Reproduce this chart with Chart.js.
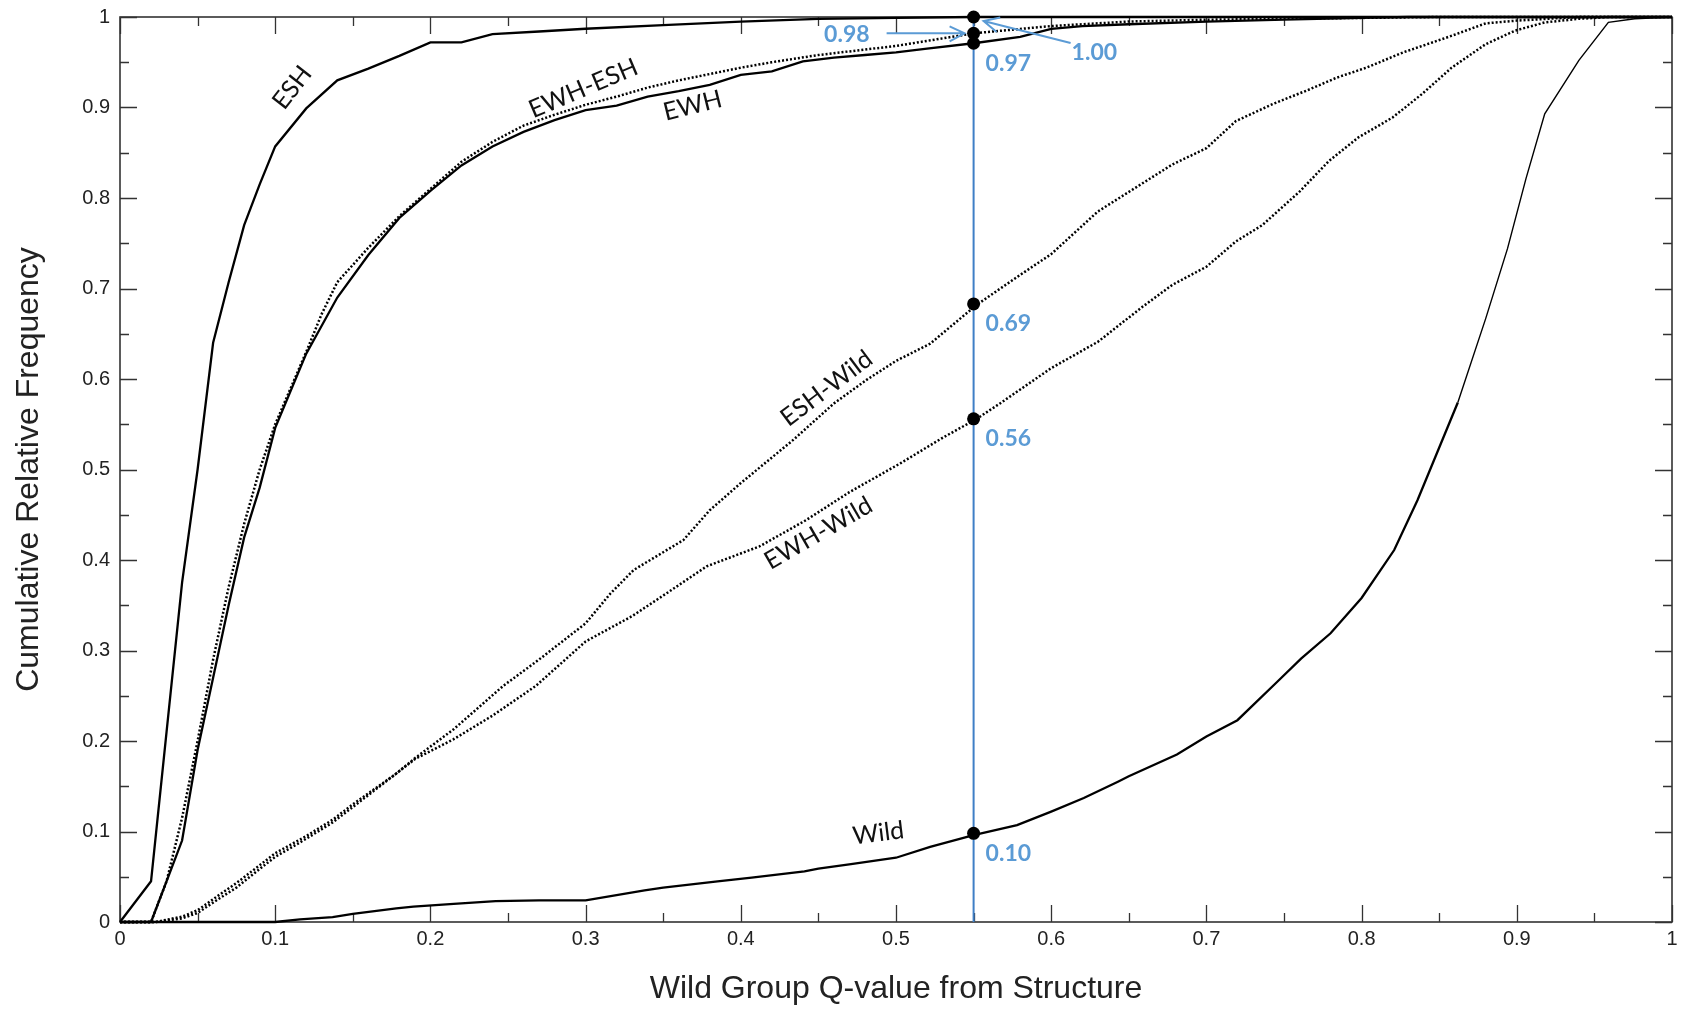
<!DOCTYPE html>
<html><head><meta charset="utf-8">
<script src="https://cdn.jsdelivr.net/npm/chart.js@4.4.1/dist/chart.umd.min.js"></script>
<style>html,body{margin:0;padding:0;background:#fff;}#wrap{width:1686px;height:1009px;}</style>
</head><body><div id="wrap"><canvas id="c" width="1686" height="1009"></canvas></div>
<script>
// ---------- data ----------
const xTickValues = [0,0.1,0.2,0.3,0.4,0.5,0.6,0.7,0.8,0.9,1];
const xTickLabels = ['0','0.1','0.2','0.3','0.4','0.5','0.6','0.7','0.8','0.9','1'];
const yTickValues = [0,0.1,0.2,0.3,0.4,0.5,0.6,0.7,0.8,0.9,1];
const yTickLabels = ['0','0.1','0.2','0.3','0.4','0.5','0.6','0.7','0.8','0.9','1'];
const minorTickValues = [0.05,0.15,0.25,0.35,0.45,0.55,0.65,0.75,0.85,0.95];

const eshX = [0,0.02,0.03,0.04,0.05,0.06,0.07,0.08,0.09,0.10,0.12,0.14,0.16,0.18,0.20,0.22,0.24,0.27,0.30,0.35,0.40,0.45,0.50,0.55,1.0];
const eshY = [0,0.045,0.21,0.375,0.50,0.64,0.707,0.77,0.815,0.857,0.899,0.93,0.943,0.957,0.972,0.972,0.981,0.984,0.987,0.991,0.995,0.998,0.999,1.0,1.0];

const ewhX = [0,0.02,0.04,0.05,0.06,0.07,0.08,0.09,0.10,0.12,0.14,0.16,0.18,0.20,0.22,0.24,0.26,0.28,0.30,0.32,0.34,0.36,0.38,0.40,0.42,0.44,0.46,0.48,0.50,0.52,0.55,0.58,0.60,0.62,0.65,0.70,0.75,0.80,0.83,1.0];
const ewhY = [0,0,0.09,0.19,0.27,0.35,0.425,0.48,0.546,0.628,0.69,0.737,0.778,0.808,0.836,0.857,0.873,0.886,0.897,0.902,0.912,0.918,0.925,0.936,0.94,0.951,0.955,0.958,0.961,0.965,0.971,0.978,0.987,0.99,0.992,0.995,0.997,0.999,1.0,1.0];

const ewhEshX = [0,0.02,0.03,0.04,0.05,0.06,0.07,0.08,0.09,0.10,0.12,0.13,0.14,0.16,0.18,0.20,0.22,0.24,0.26,0.28,0.30,0.32,0.34,0.36,0.38,0.40,0.42,0.45,0.50,0.55,0.60,0.65,0.70,0.75,0.80,0.85,1.0];
const ewhEshY = [0,0,0.045,0.115,0.20,0.29,0.37,0.44,0.50,0.55,0.63,0.672,0.707,0.745,0.78,0.81,0.84,0.862,0.88,0.892,0.903,0.912,0.922,0.93,0.937,0.944,0.95,0.958,0.968,0.982,0.99,0.995,0.997,0.998,0.999,1.0,1.0];

const eshWildX = [0,0.023,0.04,0.05,0.064,0.075,0.094,0.10,0.12,0.137,0.15,0.178,0.19,0.215,0.247,0.27,0.30,0.316,0.331,0.363,0.38,0.40,0.434,0.46,0.481,0.50,0.522,0.552,0.58,0.60,0.63,0.654,0.678,0.70,0.719,0.743,0.765,0.784,0.803,0.827,0.856,0.88,0.90,0.94,1.0];
const eshWildY = [0,0,0.006,0.013,0.03,0.043,0.068,0.076,0.095,0.113,0.13,0.164,0.181,0.213,0.261,0.29,0.33,0.363,0.389,0.422,0.455,0.485,0.533,0.573,0.599,0.62,0.639,0.682,0.715,0.738,0.785,0.811,0.837,0.855,0.885,0.904,0.919,0.933,0.944,0.961,0.978,0.993,0.996,1.0,1.0];

const ewhWildX = [0,0.023,0.04,0.05,0.064,0.075,0.094,0.10,0.12,0.137,0.15,0.178,0.19,0.215,0.24,0.268,0.30,0.33,0.352,0.378,0.412,0.442,0.47,0.503,0.53,0.552,0.567,0.60,0.63,0.659,0.678,0.70,0.719,0.736,0.76,0.779,0.798,0.82,0.839,0.858,0.88,0.899,0.918,0.94,0.96,1.0];
const ewhWildY = [0,0,0.004,0.01,0.026,0.038,0.064,0.072,0.092,0.11,0.127,0.164,0.18,0.202,0.228,0.261,0.31,0.338,0.363,0.393,0.415,0.444,0.475,0.507,0.535,0.556,0.573,0.612,0.641,0.68,0.704,0.724,0.752,0.77,0.807,0.841,0.867,0.889,0.915,0.944,0.97,0.985,0.994,0.998,1.0,1.0];

const wildX = [0,0.10,0.116,0.137,0.15,0.178,0.189,0.215,0.242,0.27,0.30,0.338,0.35,0.385,0.407,0.441,0.45,0.471,0.50,0.522,0.55,0.578,0.60,0.621,0.643,0.65,0.681,0.70,0.72,0.746,0.761,0.78,0.80,0.821,0.836,0.862,0.88,0.894,0.906,0.918,0.94,0.959,0.976,1.0];
const wildY = [0,0,0.003,0.0055,0.009,0.015,0.017,0.02,0.023,0.024,0.024,0.035,0.038,0.045,0.049,0.056,0.059,0.064,0.071,0.083,0.096,0.107,0.122,0.137,0.155,0.161,0.185,0.205,0.223,0.266,0.291,0.319,0.358,0.411,0.466,0.574,0.667,0.744,0.822,0.893,0.952,0.994,0.998,1.0];

const cutX = 0.55;
const cutValues = [1.00, 0.982, 0.971, 0.683, 0.556, 0.098];
const cutLabelTexts = ['0.97','0.69','0.56','0.10'];
const cutLabelValues = [0.971, 0.683, 0.556, 0.098];

// ---------- helpers ----------
const pts = (xs, ys) => xs.map((x, i) => ({x, y: ys[i]}));

// series label annotations (placement only)
const seriesLabels = [
  {text:'ESH', x:0.111, y:0.922, rot:-52},
  {text:'EWH-ESH', x:0.2985, y:0.921, rot:-23},
  {text:'EWH', x:0.369, y:0.902, rot:-14},
  {text:'ESH-Wild', x:0.4553, y:0.5897, rot:-37},
  {text:'EWH-Wild', x:0.45, y:0.4295, rot:-30},
  {text:'Wild', x:0.4886, y:0.098, rot:-7}
];

const BLUE_LINE = '#3f7fc6';
const BLUE_TEXT = '#5b9bd5';

const framePlugin = {
  id: 'frame',
  beforeDatasetsDraw(chart) {
    const {ctx, chartArea: a, scales: {x, y}} = chart;
    ctx.save();
    ctx.strokeStyle = '#333';
    ctx.lineWidth = 1.3;
    ctx.beginPath();
    xTickValues.forEach(v => { const p = Math.round(x.getPixelForValue(v)) + 0.5;
      ctx.moveTo(p, a.bottom); ctx.lineTo(p, a.bottom - 17);
      ctx.moveTo(p, a.top); ctx.lineTo(p, a.top + 17); });
    minorTickValues.forEach(v => { const p = Math.round(x.getPixelForValue(v)) + 0.5;
      ctx.moveTo(p, a.bottom); ctx.lineTo(p, a.bottom - 9);
      ctx.moveTo(p, a.top); ctx.lineTo(p, a.top + 9); });
    yTickValues.forEach(v => { const p = Math.round(y.getPixelForValue(v)) + 0.5;
      ctx.moveTo(a.left, p); ctx.lineTo(a.left + 17, p);
      ctx.moveTo(a.right, p); ctx.lineTo(a.right - 17, p); });
    minorTickValues.forEach(v => { const p = Math.round(y.getPixelForValue(v)) + 0.5;
      ctx.moveTo(a.left, p); ctx.lineTo(a.left + 9, p);
      ctx.moveTo(a.right, p); ctx.lineTo(a.right - 9, p); });
    ctx.stroke();
    ctx.lineWidth = 1.6;
    ctx.strokeRect(a.left, a.top, a.right - a.left, a.bottom - a.top);
    ctx.restore();
  },
  afterDatasetsDraw(chart) {
    const {ctx, scales: {x, y}} = chart;
    ctx.save();
    // series labels
    ctx.fillStyle = '#111';
    ctx.font = '25px Lato';
    ctx.textAlign = 'center';
    ctx.textBaseline = 'middle';
    seriesLabels.forEach(l => {
      ctx.save();
      ctx.translate(x.getPixelForValue(l.x), y.getPixelForValue(l.y));
      ctx.rotate(l.rot * Math.PI / 180);
      ctx.fillText(l.text, 0, 0);
      ctx.restore();
    });
    // blue value labels
    ctx.fillStyle = BLUE_TEXT;
    ctx.font = 'bold 23px Lato';
    ctx.textAlign = 'left';
    const cx = x.getPixelForValue(cutX);
    cutLabelTexts.forEach((t, i) => {
      ctx.fillText(t, cx + 12, y.getPixelForValue(cutLabelValues[i]) + 20);
    });
    // 0.98 label with arrow
    const y98 = y.getPixelForValue(cutValues[1]);
    ctx.textAlign = 'right';
    ctx.fillText('0.98', cx - 104, y98 + 1);
    ctx.strokeStyle = BLUE_TEXT;
    ctx.lineWidth = 2;
    ctx.beginPath();
    ctx.moveTo(cx - 87, y98); ctx.lineTo(cx - 9, y98);
    ctx.moveTo(cx - 24, y98 - 7); ctx.lineTo(cx - 9, y98); ctx.lineTo(cx - 24, y98 + 8);
    ctx.stroke();
    // 1.00 label with arrow
    const y100 = y.getPixelForValue(cutValues[0]);
    ctx.textAlign = 'left';
    ctx.fillText('1.00', cx + 98, y100 + 36);
    ctx.beginPath();
    const sx = cx + 97, sy = y100 + 26, ex = cx + 10, ey = y100 + 4;
    ctx.moveTo(sx, sy); ctx.lineTo(ex, ey);
    const ang = Math.atan2(sy - ey, sx - ex);
    ctx.moveTo(ex + 17 * Math.cos(ang - 0.45), ey + 17 * Math.sin(ang - 0.45));
    ctx.lineTo(ex, ey);
    ctx.lineTo(ex + 17 * Math.cos(ang + 0.45), ey + 17 * Math.sin(ang + 0.45));
    ctx.stroke();
    ctx.restore();
  }
};

const solid = (data) => ({data, borderColor:'#000', borderWidth:2.3, pointRadius:0, tension:0, showLine:true, fill:false, clip:false});
const dotted = (data) => ({data, borderColor:'#000', borderWidth:2.5, borderDash:[2,2], pointRadius:0, tension:0, showLine:true, fill:false, clip:false});

const wildDs = solid(pts(wildX, wildY));
wildDs.segment = { borderWidth: c => (c.p0.parsed.x >= 0.86 ? 1.4 : 2.3) };

new Chart(document.getElementById('c'), {
  type: 'scatter',
  data: {
    datasets: [
      {label:'markers', data: cutValues.map(v => ({x: cutX, y: v})), pointRadius:6.5, pointBackgroundColor:'#000', pointBorderColor:'#000', pointBorderWidth:0, showLine:false, clip:false},
      {label:'cut', data: [{x: cutX, y: 0}, {x: cutX, y: 1}], borderColor: BLUE_LINE, borderWidth: 2, pointRadius: 0, showLine: true, fill:false},
      Object.assign({label:'ESH'}, solid(pts(eshX, eshY))),
      Object.assign({label:'EWH'}, solid(pts(ewhX, ewhY))),
      Object.assign({label:'EWH-ESH'}, dotted(pts(ewhEshX, ewhEshY))),
      Object.assign({label:'ESH-Wild'}, dotted(pts(eshWildX, eshWildY))),
      Object.assign({label:'EWH-Wild'}, dotted(pts(ewhWildX, ewhWildY))),
      Object.assign({label:'Wild'}, wildDs)
    ]
  },
  options: {
    responsive: false,
    animation: false,
    devicePixelRatio: 1,
    layout: { padding: { top: 17, right: 14, left: 0, bottom: 0 } },
    plugins: { legend: { display: false }, tooltip: { enabled: false } },
    scales: {
      x: {
        type: 'linear', min: 0, max: 1,
        afterBuildTicks: s => { s.ticks = xTickValues.map(v => ({value: v})); },
        afterFit: s => { s.height = 87; s.paddingLeft = 0; s.paddingRight = 0; },
        grid: { display: false, drawTicks: false }, border: { display: false },
        ticks: { autoSkip: false, maxRotation: 0, padding: 5, color: '#222',
          font: { family: 'Liberation Sans', size: 20 },
          callback: (v, i) => xTickLabels[i] },
        title: { display: true, text: 'Wild Group Q-value from Structure', color: '#222',
          font: { family: 'Liberation Sans', size: 32 }, padding: { top: 0, bottom: 1 } }
      },
      y: {
        type: 'linear', min: 0, max: 1,
        afterBuildTicks: s => { s.ticks = yTickValues.map(v => ({value: v})); },
        afterFit: s => { s.width = 120; s.paddingTop = 0; s.paddingBottom = 0; },
        grid: { display: false, drawTicks: false }, border: { display: false },
        ticks: { autoSkip: false, padding: 10, color: '#222',
          font: { family: 'Liberation Sans', size: 20 },
          callback: (v, i) => yTickLabels[i] },
        title: { display: true, text: 'Cumulative Relative Frequency', color: '#222',
          font: { family: 'Liberation Sans', size: 32 }, padding: { top: 10, bottom: 0 } }
      }
    }
  },
  plugins: [framePlugin]
});
</script></body></html>
